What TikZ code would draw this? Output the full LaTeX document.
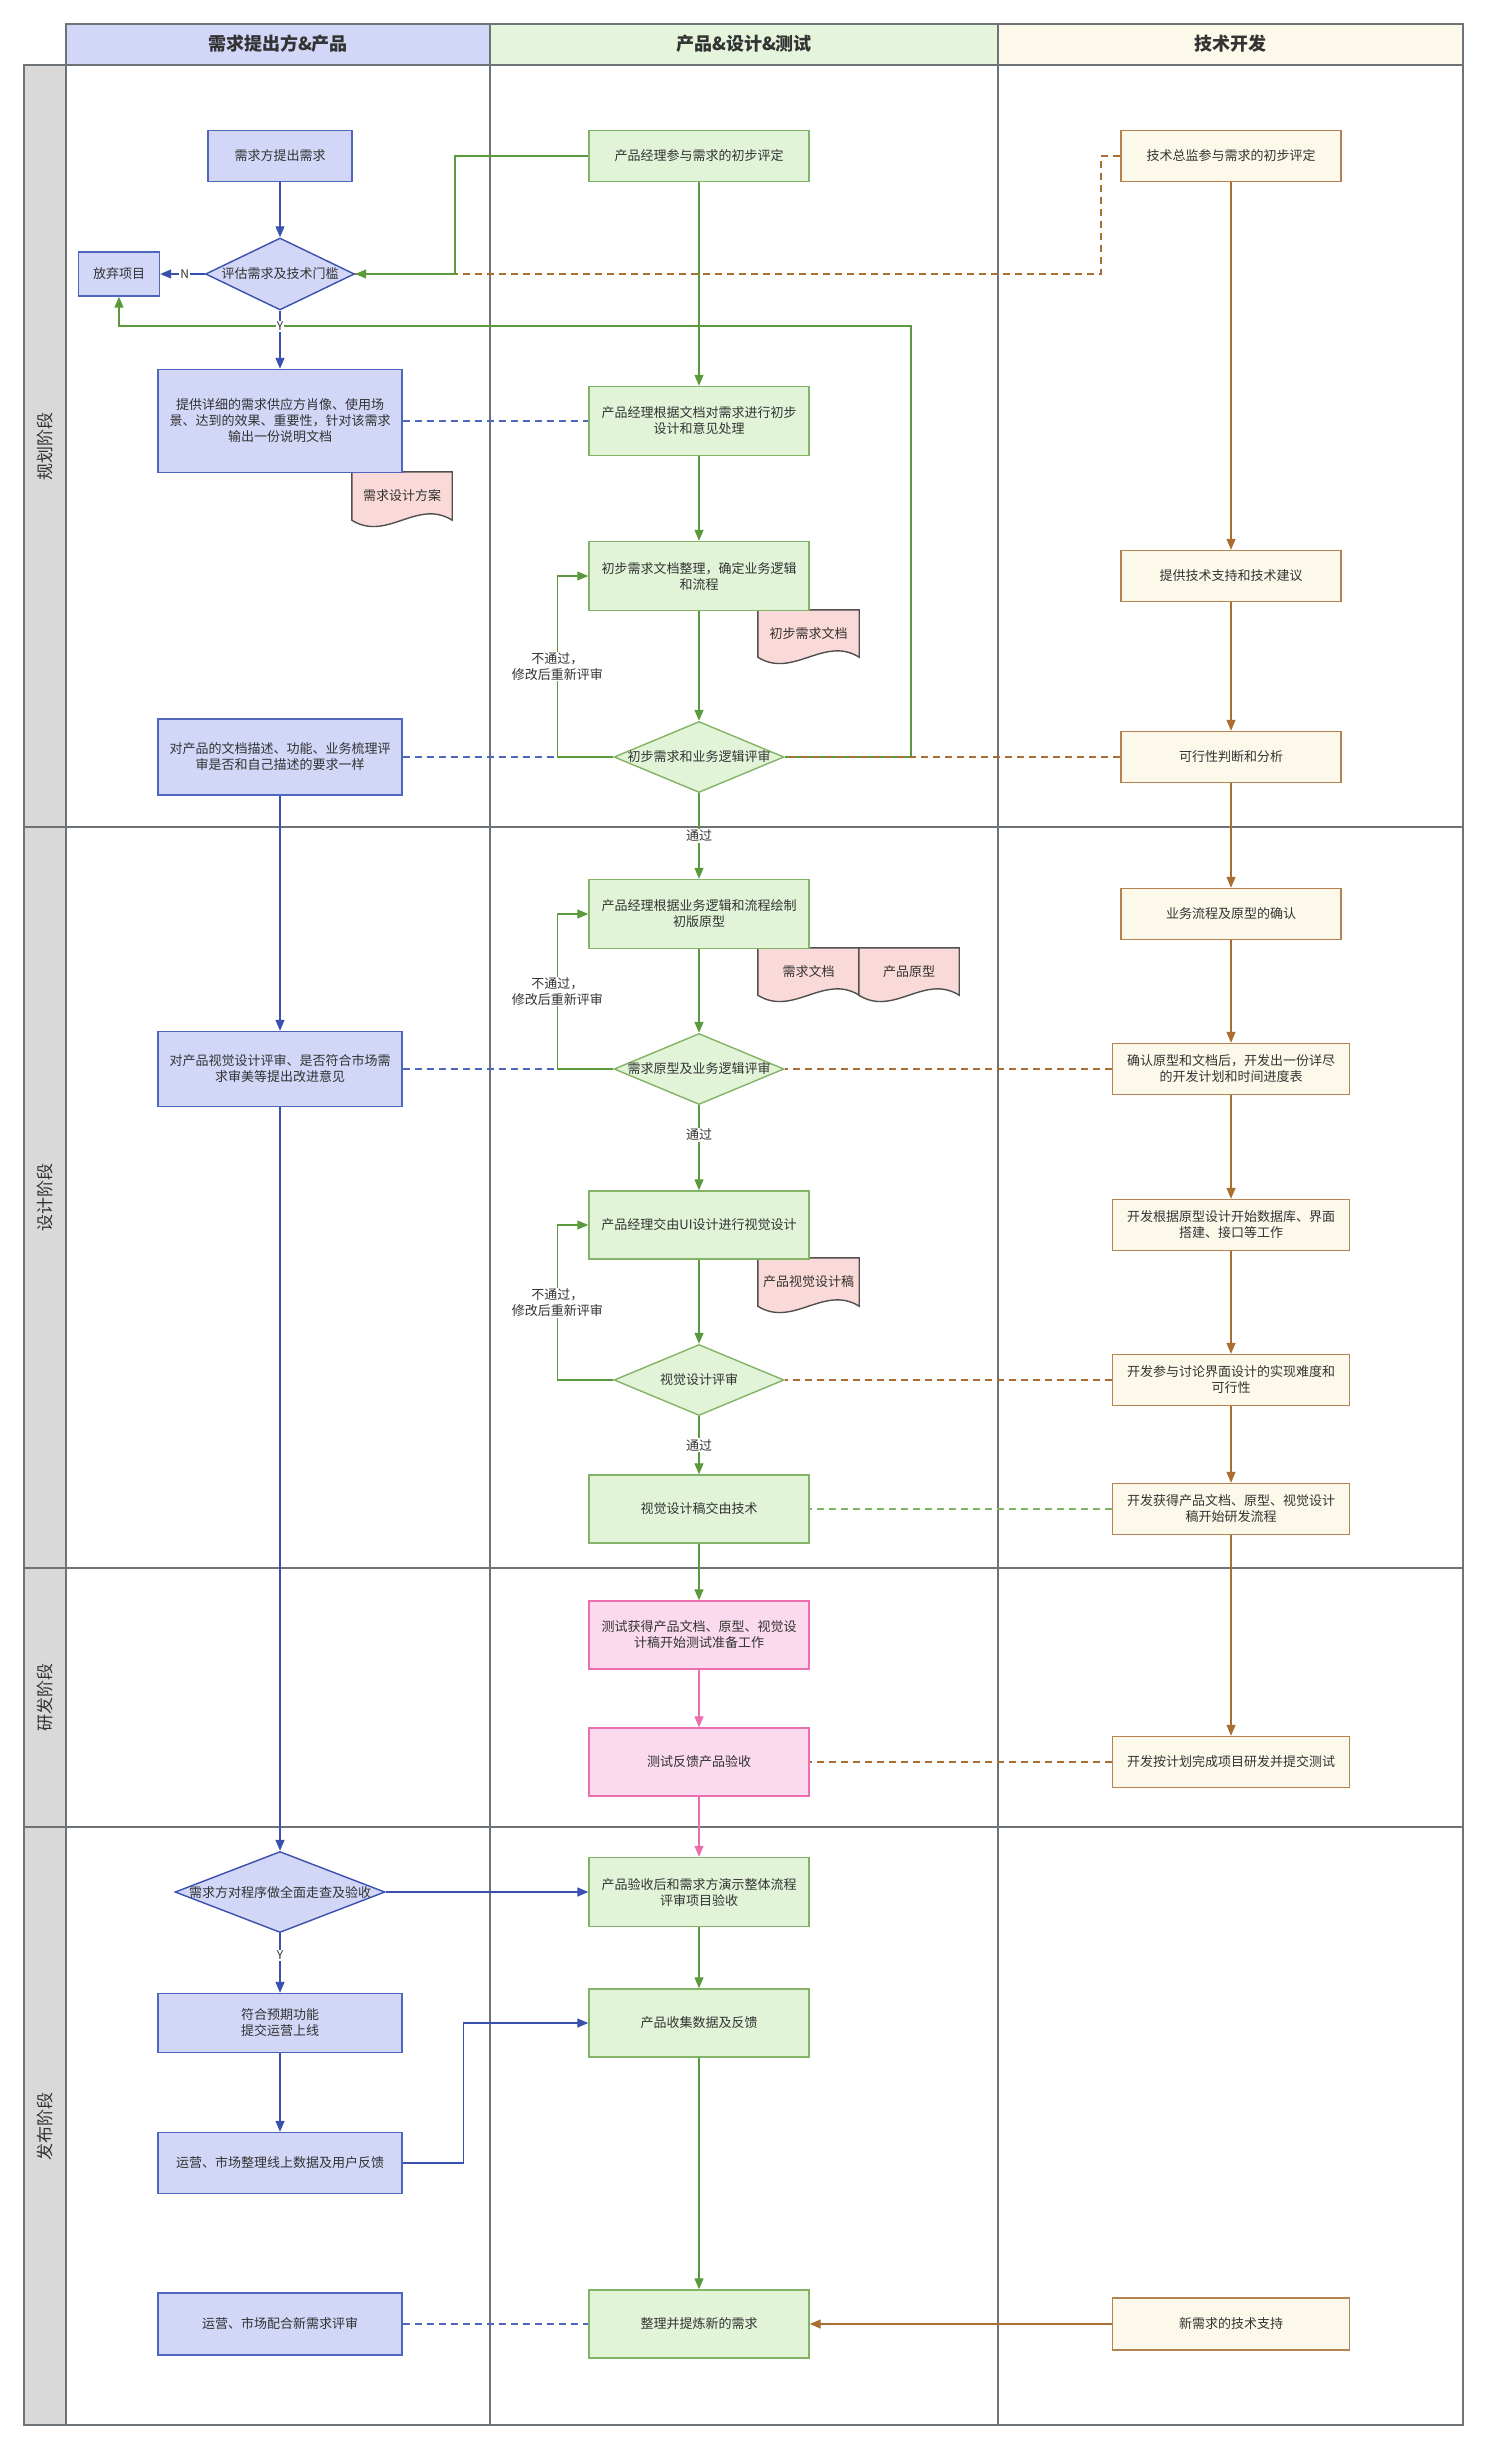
\documentclass[tikz,border=0pt]{standalone}
\usepackage{fontspec}
\setmainfont{Noto Sans CJK SC}
\usetikzlibrary{shapes.geometric,arrows.meta,backgrounds,calc}

\definecolor{txt}{HTML}{333333}
\definecolor{lanegrey}{HTML}{6E7378}
\definecolor{phasefill}{HTML}{D9D9D9}
\definecolor{bfill}{HTML}{D2D6F7}
\definecolor{bdraw}{HTML}{5065BE}
\definecolor{bline}{HTML}{3A50AE}
\definecolor{gfill}{HTML}{E2F4D8}
\definecolor{ghead}{HTML}{E4F5DC}
\definecolor{gdraw}{HTML}{82B366}
\definecolor{gline}{HTML}{5A9A3C}
\definecolor{ofill}{HTML}{FCF8EA}
\definecolor{odraw}{HTML}{B58250}
\definecolor{oline}{HTML}{AA6E32}
\definecolor{pfill}{HTML}{FADAEC}
\definecolor{pdraw}{HTML}{EB6EAF}
\definecolor{docfill}{HTML}{FADAD8}
\definecolor{docdraw}{HTML}{505050}

\newcommand{\dlabel}[1]{\makebox[0pt]{#1}}

\tikzset{
  lane/.style={draw=lanegrey, line width=1.6pt},
  box/.style={rectangle, line width=1.4pt, inner sep=2pt, align=center,
    font=\fontsize{13}{16}\selectfont, text=txt},
  bluebox/.style={box, draw=bdraw, fill=bfill, minimum width=244pt},
  greenbox/.style={box, draw=gdraw, fill=gfill, minimum width=220pt, minimum height=68pt},
  orangebox/.style={box, draw=odraw, fill=ofill, minimum width=220pt, minimum height=51pt},
  pinkbox/.style={box, draw=pdraw, fill=pfill, minimum width=220pt, minimum height=68pt},
  diam/.style={diamond, line width=1.4pt, inner sep=0pt,
    font=\fontsize{13}{16}\selectfont, text=txt},
  bluediam/.style={diam, draw=bline, fill=bfill},
  greendiam/.style={diam, draw=gdraw, fill=gfill, minimum width=170pt, minimum height=71pt},
  docbox/.style={rectangle, inner sep=0pt, minimum width=101pt, minimum height=47pt,
    font=\fontsize{13}{16}\selectfont, text=txt},
  tip/.style={-{Triangle[length=11pt,width=9pt]}},
  blueflow/.style={draw=bline, line width=1.3pt, tip},
  greenflow/.style={draw=gline, line width=1.3pt, tip},
  orangeflow/.style={draw=oline, line width=1.3pt, tip},
  pinkflow/.style={draw=pdraw, line width=1.3pt, tip},
  bluedash/.style={draw=bdraw, line width=1.3pt, dash pattern=on 7pt off 5pt},
  greendash/.style={draw=gdraw, line width=1.3pt, dash pattern=on 7pt off 5pt},
  orangedash/.style={draw=oline, line width=1.3pt, dash pattern=on 7pt off 5pt},
  passlbl/.style={fill=white, inner sep=1pt, font=\fontsize{13}{16}\selectfont, text=txt},
  looplbl/.style={passlbl, align=center},
  yn/.style={fill=white, inner sep=1pt, font=\fontsize{12}{14}\selectfont, text=txt},
  headtxt/.style={font=\fontsize{18}{22}\selectfont\bfseries, text=txt},
  phasetxt/.style={rotate=90, font=\fontsize{17}{20}\selectfont, text=txt}
}

\begin{document}
\begin{tikzpicture}[x=1pt, y=-1pt]
  \useasboundingbox (0,0) rectangle (1489,2451);
  % Draw the lanes and the phases.
  \filldraw[lane, fill=bfill] (66,24) rectangle (490,65);
  \filldraw[lane, fill=ghead] (490,24) rectangle (998,65);
  \filldraw[lane, fill=ofill] (998,24) rectangle (1463,65);
  \filldraw[lane, fill=phasefill] (24,65) rectangle (66,2425);
  \draw[lane] (66,65) rectangle (1463,2425);
  \draw[lane] (490,65) -- (490,2425);
  \draw[lane] (998,65) -- (998,2425);
  \foreach \y in {827,1568,1827}
    \draw[lane] (24,\y) -- (1463,\y);
  \node[headtxt] (head1) at (278,44) {需求提出方\&产品};
  \node[headtxt] (head2) at (744,44) {产品\&设计\&测试};
  \node[headtxt] (head3) at (1230,44) {技术开发};
  \node[phasetxt] (phase1) at (45,446) {规划阶段};
  \node[phasetxt] (phase2) at (45,1197) {设计阶段};
  \node[phasetxt] (phase3) at (45,1697) {研发阶段};
  \node[phasetxt] (phase4) at (45,2126) {发布阶段};

  % Draw the steps of the demand side.
  \node[bluebox, minimum width=144pt, minimum height=51pt] (req) at (280,156) {需求方提出需求};
  \node[bluediam, minimum width=149pt, minimum height=72pt] (judge) at (280,274) {\dlabel{评估需求及技术门槛}};
  \node[bluebox, minimum width=81pt, minimum height=44pt] (quit) at (119,274) {放弃项目};
  \node[bluebox, minimum height=103pt] (detail) at (280,421) {提供详细的需求供应方肖像、使用场\\景、达到的效果、重要性，针对该需求\\输出一份说明文档};
  \node[bluebox, minimum height=76pt] (docrev) at (280,757) {对产品的文档描述、功能、业务梳理评\\审是否和自己描述的要求一样};
  \node[bluebox, minimum height=75pt] (visrev) at (280,1069) {对产品视觉设计评审、是否符合市场需\\求审美等提出改进意见};
  \node[bluediam, minimum width=210pt, minimum height=81pt] (accept) at (280,1892) {\dlabel{需求方对程序做全面走查及验收}};
  \node[bluebox, minimum height=59pt] (online) at (280,2023) {符合预期功能\\提交运营上线};
  \node[bluebox, minimum height=61pt] (feedback) at (280,2163) {运营、市场整理线上数据及用户反馈};
  \node[bluebox, minimum height=62pt] (newrev) at (280,2324) {运营、市场配合新需求评审};

  % Draw the steps of product, design and test.
  \node[greenbox, minimum height=51pt] (pmeval) at (699,156) {产品经理参与需求的初步评定};
  \node[greenbox, minimum height=69pt] (pmdesign) at (699,421) {产品经理根据文档对需求进行初步\\设计和意见处理};
  \node[greenbox, minimum height=69pt] (pmdoc) at (699,576) {初步需求文档整理，确定业务逻辑\\和流程};
  \node[greendiam] (rev1) at (699,757) {\dlabel{初步需求和业务逻辑评审}};
  \node[greenbox, minimum height=69pt] (proto) at (699,914) {产品经理根据业务逻辑和流程绘制\\初版原型};
  \node[greendiam] (rev2) at (699,1069) {\dlabel{需求原型及业务逻辑评审}};
  \node[greenbox] (ui) at (699,1225) {产品经理交由UI设计进行视觉设计};
  \node[greendiam] (rev3) at (699,1380) {\dlabel{视觉设计评审}};
  \node[greenbox] (handover) at (699,1509) {视觉设计稿交由技术};
  \node[pinkbox] (testprep) at (699,1635) {测试获得产品文档、原型、视觉设\\计稿开始测试准备工作};
  \node[pinkbox] (testfb) at (699,1762) {测试反馈产品验收};
  \node[greenbox, minimum height=69pt] (demo) at (699,1892) {产品验收后和需求方演示整体流程\\评审项目验收};
  \node[greenbox] (collect) at (699,2023) {产品收集数据及反馈};
  \node[greenbox] (refine) at (699,2324) {整理并提炼新的需求};

  % Draw the steps of development.
  \node[orangebox] (cto) at (1231,156) {技术总监参与需求的初步评定};
  \node[orangebox] (support) at (1231,576) {提供技术支持和技术建议};
  \node[orangebox] (feasible) at (1231,757) {可行性判断和分析};
  \node[orangebox] (confirm) at (1231,914) {业务流程及原型的确认};
  \node[orangebox, minimum width=237pt] (plan) at (1231,1069) {确认原型和文档后，开发出一份详尽\\的开发计划和时间进度表};
  \node[orangebox, minimum width=237pt] (build) at (1231,1225) {开发根据原型设计开始数据库、界面\\搭建、接口等工作};
  \node[orangebox, minimum width=237pt] (discuss) at (1231,1380) {开发参与讨论界面设计的实现难度和\\可行性};
  \node[orangebox, minimum width=237pt] (devstart) at (1231,1509) {开发获得产品文档、原型、视觉设计\\稿开始研发流程};
  \node[orangebox, minimum width=237pt] (devdone) at (1231,1762) {开发按计划完成项目研发并提交测试};
  \node[orangebox, minimum width=237pt, minimum height=52pt] (techsup) at (1231,2324) {新需求的技术支持};

  % Draw the documents with their wavy bottom.
  \node[docbox, minimum width=100pt, minimum height=48pt] (docplan) at (402,496) {需求设计方案};
  \node[docbox] (docfirst) at (808.5,633.5) {初步需求文档};
  \node[docbox] (docreq) at (808.5,971.5) {需求文档};
  \node[docbox, minimum width=100pt] (docproto) at (909,971.5) {产品原型};
  \node[docbox, minimum height=48pt] (docvis) at (808.5,1282) {产品视觉设计稿};
  \begin{scope}[on background layer]
    \foreach \d in {docplan,docfirst,docreq,docproto,docvis}
      \filldraw[draw=docdraw, fill=docfill, line width=1.4pt]
        (\d.north west) -- (\d.north east) -- (\d.south east)
        .. controls ($(\d.south east)+(-35,-22)$) and ($(\d.south west)+(35,22)$) .. (\d.south west) -- cycle;
  \end{scope}

  % Draw the way back from the first review to the dropped project.
  \coordinate (backturn) at (911,326);
  \draw[greenflow] (rev1.east) -| (backturn) -| (quit.south);

  % Draw the flow of the demand side.
  \draw[blueflow] (req) -- (judge);
  \draw[blueflow] (judge.west) -- node[pos=0.45, yn] {N} (quit.east);
  \draw[blueflow] (judge.south) -- node[pos=0.27, yn] {Y} (detail.north);
  \draw[blueflow] (docrev) -- (visrev);
  \draw[blueflow] (visrev) -- (accept);
  \draw[blueflow] (accept.east) -- (demo.west);
  \draw[blueflow] (accept.south) -- node[pos=0.37, yn] {Y} (online.north);
  \draw[blueflow] (online) -- (feedback);
  \draw[blueflow] (feedback.east) -- ++(61,0) |- (collect.west);
  % Draw the dashed links between the lanes.
  \draw[bluedash] (detail.east) -- (pmdesign.west);
  \draw[bluedash] (docrev.east) -- (rev1.west);
  \draw[bluedash] (visrev.east) -- (rev2.west);
  \draw[bluedash] (newrev.east) -- (refine.west);
  \coordinate (ctoturn) at (1101,274);
  \draw[orangedash] (cto.west) -| (ctoturn) -- (judge.east);
  \draw[orangedash] (feasible.west) -- (rev1.east);
  \draw[orangedash] (plan.west) -- (rev2.east);
  \draw[orangedash] (discuss.west) -- (rev3.east);
  \draw[orangedash] (devdone.west) -- (testfb.east);
  \draw[greendash] (devstart.west) -- (handover.east);

  % Draw the flow of product, design and test.
  \coordinate (evalturn) at (455,274);
  \draw[greenflow] (pmeval.west) -| (evalturn) -- (judge.east);
  \foreach \a/\b in {pmeval/pmdesign, pmdesign/pmdoc, pmdoc/rev1, proto/rev2, ui/rev3, handover/testprep, demo/collect, collect/refine}
    \draw[greenflow] (\a) -- (\b);
  \draw[pinkflow] (testprep) -- (testfb);
  \draw[pinkflow] (testfb) -- (demo);
  \draw[greenflow] (rev1.south) -- node[passlbl] {通过} (proto.north);
  \draw[greenflow] (rev2.south) -- node[pos=0.35, passlbl] {通过} (ui.north);
  \draw[greenflow] (rev3.south) -- node[passlbl] {通过} (handover.north);
  \draw[greenflow] (rev1.west) -- ++(-56,0) |- node[pos=0.25, looplbl] {不通过，\\修改后重新评审} (pmdoc.west);
  \draw[greenflow] (rev2.west) -- ++(-56,0) |- node[pos=0.25, looplbl] {不通过，\\修改后重新评审} (proto.west);
  \draw[greenflow] (rev3.west) -- ++(-56,0) |- node[pos=0.25, looplbl] {不通过，\\修改后重新评审} (ui.west);

  % Draw the flow of development.
  \foreach \a/\b in {cto/support, support/feasible, feasible/confirm, confirm/plan, plan/build, build/discuss, discuss/devstart, devstart/devdone}
    \draw[orangeflow] (\a) -- (\b);
  \draw[orangeflow] (techsup.west) -- (refine.east);
\end{tikzpicture}
\end{document}
